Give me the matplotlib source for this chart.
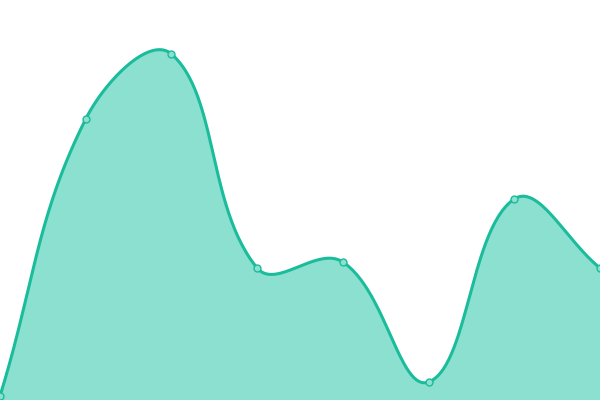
import numpy as np
import matplotlib
matplotlib.use('Agg')
import matplotlib.pyplot as plt

# values (axis 0..400, one point per category)
labels = ['A', 'B', 'C', 'D', 'E', 'F', 'G', 'H']
values = [4, 281, 346, 132, 138, 18, 201, 132]

line_color = '#1abc9c'
fill_color = '#8ce0cf'
tension = 0.4

fig = plt.figure(figsize=(6, 4), dpi=100)
ax = fig.add_axes([0, 0, 1, 1])
ax.set_xlim(0, len(labels) - 1)
ax.set_ylim(0, 400)
ax.axis('off')

x = np.arange(len(labels), dtype=float)
y = np.array(values, dtype=float)

# work in pixel space so the spline bends like the original
pts = ax.transData.transform(np.column_stack([x, y]))
n = len(pts)
cp_prev = np.zeros_like(pts)
cp_next = np.zeros_like(pts)
for i in range(n):
    prev = pts[i - 1] if i > 0 else pts[i]
    cur = pts[i]
    nxt = pts[i + 1] if i < n - 1 else pts[i]
    d01 = np.hypot(*(cur - prev))
    d12 = np.hypot(*(nxt - cur))
    tot = d01 + d12
    s01 = d01 / tot if tot else 0
    s12 = d12 / tot if tot else 0
    cp_prev[i] = cur - tension * s01 * (nxt - prev)
    cp_next[i] = cur + tension * s12 * (nxt - prev)

# sample each cubic bezier segment
t = np.linspace(0, 1, 60)[:, None]
segs = []
for i in range(n - 1):
    p0, p1, p2, p3 = pts[i], cp_next[i], cp_prev[i + 1], pts[i + 1]
    seg = ((1 - t) ** 3) * p0 + 3 * ((1 - t) ** 2) * t * p1 + 3 * (1 - t) * t ** 2 * p2 + t ** 3 * p3
    segs.append(seg if i == 0 else seg[1:])
line_xy = ax.transData.inverted().transform(np.vstack(segs))

ax.fill_between(line_xy[:, 0], line_xy[:, 1], 0, color=fill_color, lw=0)
ax.plot(line_xy[:, 0], line_xy[:, 1], color=line_color, lw=2.2, solid_capstyle='round')
ax.plot(x, y, 'o', ms=5, mfc=fill_color, mec=line_color, mew=1, clip_on=False)

fig.savefig('out.png', dpi=100)
